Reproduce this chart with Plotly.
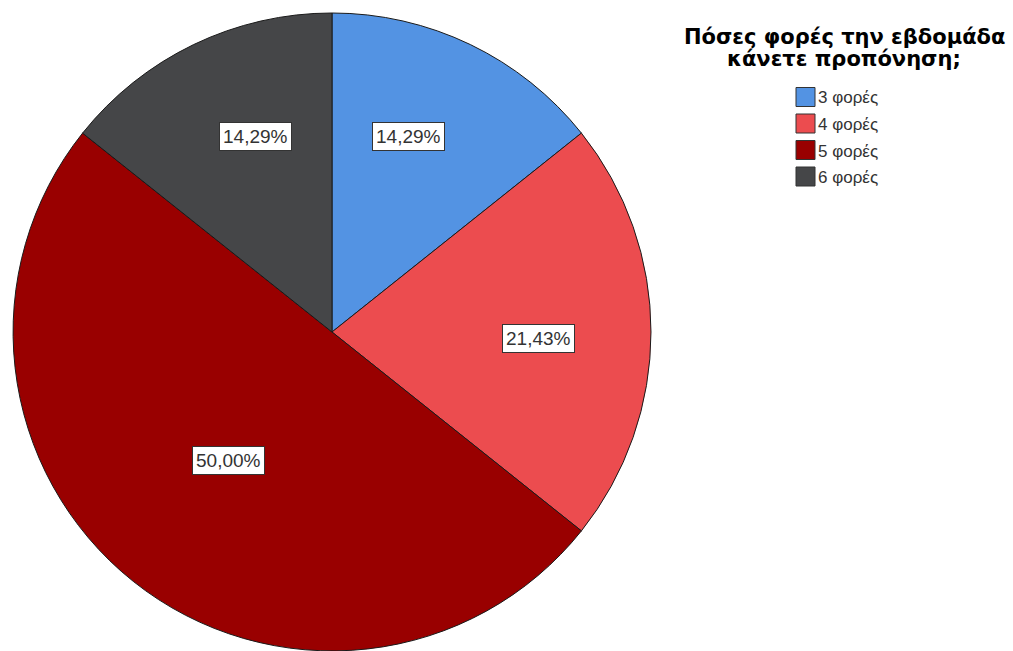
import plotly.graph_objects as go

# Training frequency survey: respondents per weekly session count
categories = ["3 φορές", "4 φορές", "5 φορές", "6 φορές"]
counts = [2, 3, 7, 2]
colors = ["#5393E3", "#EC4C4F", "#990000", "#454648"]
legend_title = ["Πόσες φορές την εβδομάδα", "κάνετε προπόνηση;"]

W, H = 1013, 651
FONT = "Liberation Sans, Arial, sans-serif"
TITLE_FONT = "DejaVu Sans, Verdana, sans-serif"

# pie geometry in pixels
cx, cy, R = 332, 332, 319

total = sum(counts)
pcts = [c / total * 100 for c in counts]
pct_text = [f"{p:.2f}".replace(".", ",") + "%" for p in pcts]

fig = go.Figure(
    go.Pie(
        labels=categories,
        values=counts,
        sort=False,
        direction="clockwise",
        rotation=0,
        marker=dict(colors=colors, line=dict(color="#1a1a1a", width=1)),
        textinfo="none",
        hoverinfo="label+percent",
        domain=dict(x=[(cx - R) / W, (cx + R) / W], y=[(H - cy - R) / H, (H - cy + R) / H]),
        showlegend=False,
    )
)

# label placement (pixel offsets from the pie centre)
label_offsets = [(76, -195), (206, 6), (-104, 128), (-77, -195)]

annotations = []
for txt, (dx, dy) in zip(pct_text, label_offsets):
    annotations.append(dict(
        x=(cx + dx) / W, y=1 - (cy + dy) / H, xref="paper", yref="paper",
        text=txt, showarrow=False,
        font=dict(family=FONT, size=19, color="#333333"),
        bgcolor="white", bordercolor="#333333", borderwidth=1, borderpad=3,
        xanchor="center", yanchor="middle",
    ))

# legend title (two tight lines)
for i, line in enumerate(legend_title):
    annotations.append(dict(
        x=844 / W, y=1 - (37 + 22 * i) / H, xref="paper", yref="paper",
        text=f"<b>{line}</b>", showarrow=False,
        font=dict(family=TITLE_FONT, size=21, color="#000000"),
        xanchor="center", yanchor="middle",
    ))

# legend entries
shapes = []
sw_x0, sw_size, row0, row_gap = 796, 19, 97, 26.5
for i, (name, col) in enumerate(zip(categories, colors)):
    yc = row0 + row_gap * i
    shapes.append(dict(
        type="rect", xref="paper", yref="paper",
        x0=sw_x0 / W, x1=(sw_x0 + sw_size) / W,
        y0=1 - (yc - sw_size / 2) / H, y1=1 - (yc + sw_size / 2) / H,
        fillcolor=col, line=dict(color="#333333", width=1),
    ))
    annotations.append(dict(
        x=(sw_x0 + sw_size + 1) / W, y=1 - (yc + 1) / H, xref="paper", yref="paper",
        text=name, showarrow=False,
        font=dict(family=FONT, size=17, color="#333333"),
        xanchor="left", yanchor="middle",
    ))

fig.update_layout(
    width=W, height=H,
    margin=dict(l=0, r=0, t=0, b=0),
    paper_bgcolor="white", plot_bgcolor="white",
    annotations=annotations, shapes=shapes,
)

fig.write_html("out.html")
